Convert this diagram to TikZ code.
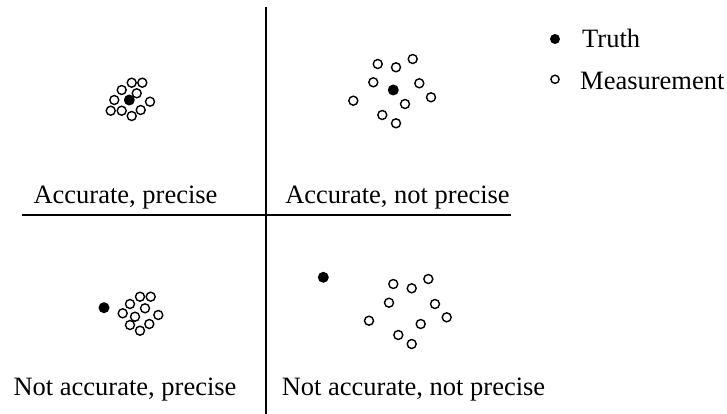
\documentclass[tikz,border=0pt]{standalone}
\usepackage{fontspec}
\setmainfont{Liberation Serif}
\usetikzlibrary{positioning}

\begin{document}
\begin{tikzpicture}[x=1pt,y=-1pt,
  truth/.style={circle,fill=black,inner sep=0pt,minimum size=11pt},
  meas/.style={circle,draw=black,line width=1.4pt,inner sep=0pt,minimum size=9pt},
  axis/.style={black,line width=2pt},
  lbl/.style={anchor=base,inner sep=0pt,font=\fontsize{26.5}{30}\selectfont}]
  \useasboundingbox (0,0) rectangle (727,414);
  \coordinate (vtop) at (266,7);    \coordinate (vbot) at (266,414);
  \coordinate (hleft) at (22,215);  \coordinate (hright) at (511,215);
  \draw[axis] (vtop) -- (vbot);
  \draw[axis] (hleft) -- (hright);

  % accurate, precise
  \foreach \x/\y [count=\i] in {131.7/82.7,142.3/82.7,121.7/90,136.7/93.3,114.3/100,
      150/101.7,110.7/110.7,121.7/110.7,131.7/116,140.7/110}
    \node[meas] (apm\i) at (\x,\y) {};
  \node[truth] (apt) at (129.3,100) {};
  \node[lbl] (aplbl) at (125.5,203) {Accurate, precise};

  % accurate, not precise
  \foreach \x/\y [count=\i] in {377.7/64,396/67.3,412.7/59,373.3/82.3,419.3/83.3,
      431/97.3,353.3/100.7,405/104,382.3/115,396/123.3}
    \node[meas] (anm\i) at (\x,\y) {};
  \node[truth] (ant) at (393.3,90) {};
  \node[lbl] (anlbl) at (397.5,203) {Accurate, not precise};

  % not accurate, precise
  \foreach \x/\y [count=\i] in {140/296.7,150.7/296.7,130/304,145/308.3,122.7/313.3,
      158.3/315,135/316.7,130/325,149.3/324,140/330.7}
    \node[meas] (npm\i) at (\x,\y) {};
  \node[truth] (npt) at (104,307.7) {};
  \node[lbl] (nplbl) at (125,395) {Not accurate, precise};

  % not accurate, not precise
  \foreach \x/\y [count=\i] in {393.3/284,411.7/288.3,428.3/279,389/302.7,435/304,
      446.7/317.3,369/320.7,420.7/324,398.3/335,411.7/344}
    \node[meas] (nnm\i) at (\x,\y) {};
  \node[truth] (nnt) at (323.3,277.3) {};
  \node[lbl] (nnlbl) at (413.5,395) {Not accurate, not precise};

  % legend
  \node[truth,minimum size=10pt] (keytruth) at (555,39) {};
  \node[lbl,anchor=base west] (keytruthlbl) at (582,47.3) {Truth};
  \node[meas,minimum size=8.2pt] (keymeas) at (555,79.3) {};
  \node[lbl,anchor=base west] (keymeaslbl) at (580,90) {Measurement};
\end{tikzpicture}
\end{document}
